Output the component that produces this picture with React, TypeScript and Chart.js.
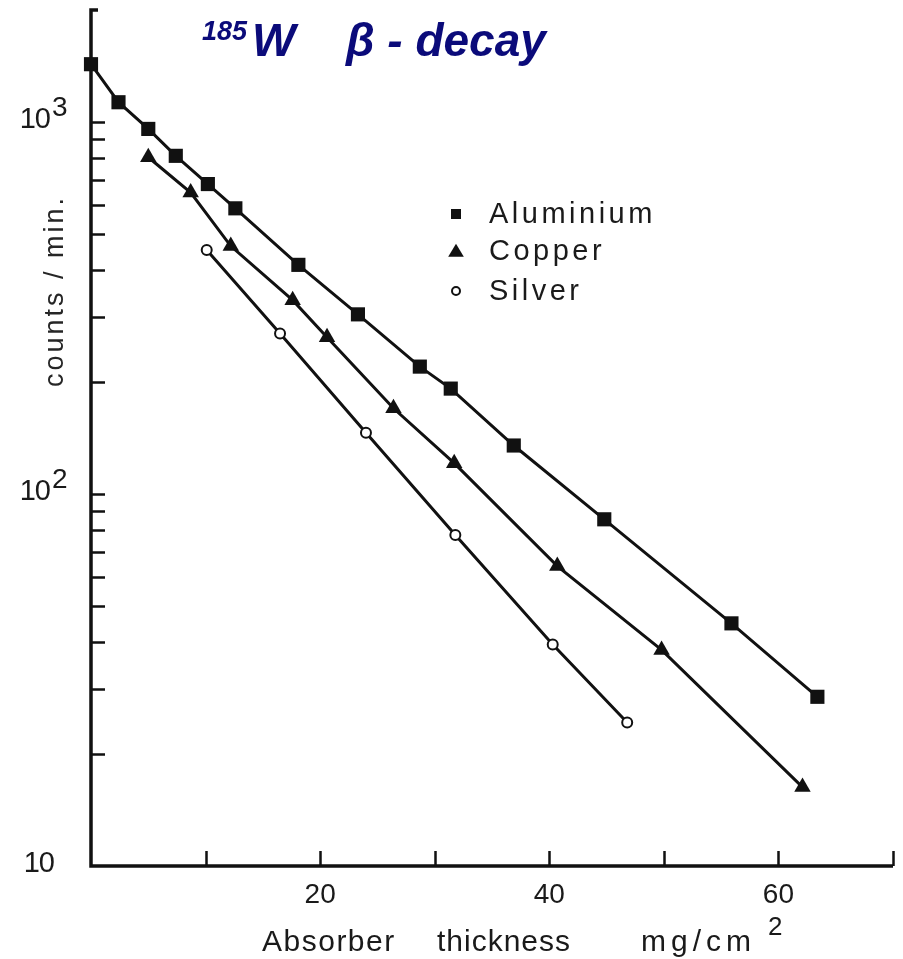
import React, { useEffect, useRef } from 'react';
import { Chart, registerables } from 'chart.js';

Chart.register(...registerables);

// ---- data ----
const aluminiumX = [0, 2.4, 5.0, 7.4, 10.2, 12.6, 18.1, 23.3, 28.7, 31.4, 36.9, 44.8, 55.9, 63.4];
const aluminiumY = [1430, 1130, 958, 811, 681, 586, 413, 304, 220, 192, 135, 85.5, 44.9, 28.5];

const copperX = [5.0, 8.7, 12.2, 17.6, 20.6, 26.4, 31.7, 40.7, 49.8, 62.1];
const copperY = [804, 646, 464, 332, 264, 170, 121, 64, 38.1, 16.3];

const silverX = [10.1, 16.5, 24.0, 31.8, 40.3, 46.8];
const silverY = [453, 270, 146, 77.6, 39.4, 24.3];

const seriesNames = ['Aluminium', 'Copper', 'Silver'];

const xTickValues = [10, 20, 30, 40, 50, 60, 70];
const xTickLabels = ['', '20', '', '40', '', '60', ''];

const yTickValues = [20, 30, 40, 50, 60, 70, 80, 90, 100, 200, 300, 400, 500, 600, 700, 800, 900, 1000];
const yLabelValues = [10, 100, 1000];
const yLabelBases = ['10', '10', '10'];
const yLabelExps = ['', '2', '3'];

const titleSup = '185';
const titleMain = 'W';
const titleRest = '\u03B2 - decay';
const yTitle = 'counts / min.';
const xTitleParts = ['Absorber', 'thickness', 'mg/cm'];
const xTitleExp = '2';

const X_MIN = 0;
const X_MAX = 70;
const Y_MIN = 10;
const Y_MAX = 2000;

const INK = '#111111';
const TEXT = '#1a1a1a';
const NAVY = '#0b0b7a';
const SANS = '"Liberation Sans", Arial, "DejaVu Sans", sans-serif';

function toPoints(xs: number[], ys: number[]) {
  return xs.map((x, i) => ({ x, y: ys[i] }));
}

function drawMarker(ctx: CanvasRenderingContext2D, style: string, x: number, y: number, s: number) {
  ctx.save();
  ctx.fillStyle = INK;
  ctx.strokeStyle = INK;
  ctx.beginPath();
  if (style === 'rect') {
    ctx.rect(x - s / 2, y - s / 2, s, s);
    ctx.fill();
  } else if (style === 'triangle') {
    ctx.moveTo(x, y - s * 0.55);
    ctx.lineTo(x + s * 0.6, y + s * 0.45);
    ctx.lineTo(x - s * 0.6, y + s * 0.45);
    ctx.closePath();
    ctx.fill();
  } else {
    ctx.lineWidth = 2;
    ctx.fillStyle = '#fff';
    ctx.arc(x, y, s / 2, 0, Math.PI * 2);
    ctx.fill();
    ctx.stroke();
  }
  ctx.restore();
}

const decorPlugin = {
  id: 'decor',
  beforeDatasetsDraw(chart: any) {
    const ctx: CanvasRenderingContext2D = chart.ctx;
    const xs = chart.scales.x;
    const ys = chart.scales.y;
    const { left, right, top, bottom } = chart.chartArea;
    ctx.save();
    ctx.strokeStyle = INK;
    ctx.lineCap = 'butt';

    // axes
    ctx.lineWidth = 3.5;
    ctx.beginPath();
    ctx.moveTo(left + 7, top);
    ctx.lineTo(left, top);
    ctx.lineTo(left, bottom);
    ctx.lineTo(right, bottom);
    ctx.stroke();

    // y ticks (inward)
    ctx.lineWidth = 2.5;
    ctx.beginPath();
    yTickValues.forEach((v) => {
      const py = Math.round(ys.getPixelForValue(v)) + 0.5;
      ctx.moveTo(left, py);
      ctx.lineTo(left + 14, py);
    });
    // x ticks (upward)
    xTickValues.forEach((v) => {
      const px = Math.round(xs.getPixelForValue(v)) + 0.5;
      ctx.moveTo(px, bottom);
      ctx.lineTo(px, bottom - 15);
    });
    ctx.stroke();

    // y tick labels
    ctx.fillStyle = TEXT;
    ctx.textBaseline = 'middle';
    yLabelValues.forEach((v, i) => {
      const py = ys.getPixelForValue(v);
      ctx.font = `29px ${SANS}`;
      (ctx as any).letterSpacing = '-1px';
      ctx.textAlign = 'right';
      const baseRight = yLabelExps[i] ? 50 : 54;
      ctx.fillText(yLabelBases[i], baseRight, py - 2);
      if (yLabelExps[i]) {
        ctx.textAlign = 'left';
        ctx.font = `28px ${SANS}`;
        ctx.fillText(yLabelExps[i], baseRight + 2, py - 14);
      }
    });
    (ctx as any).letterSpacing = '0px';

    // x tick labels
    ctx.font = `28px ${SANS}`;
    ctx.textAlign = 'center';
    ctx.textBaseline = 'middle';
    xTickValues.forEach((v, i) => {
      if (!xTickLabels[i]) return;
      ctx.fillText(xTickLabels[i], xs.getPixelForValue(v), 895);
    });

    // x title
    ctx.textAlign = 'left';
    ctx.textBaseline = 'alphabetic';
    (ctx as any).letterSpacing = '1.5px';
    ctx.font = `30px ${SANS}`;
    ctx.fillText(xTitleParts[0], 262, 951);
    (ctx as any).letterSpacing = '1px';
    ctx.fillText(xTitleParts[1], 437, 951);
    (ctx as any).letterSpacing = '5px';
    ctx.fillText(xTitleParts[2], 641, 951);
    (ctx as any).letterSpacing = '0px';
    ctx.font = `26px ${SANS}`;
    ctx.fillText(xTitleExp, 768, 935);

    // y title
    ctx.save();
    ctx.translate(63, 291);
    ctx.rotate(-Math.PI / 2);
    ctx.textAlign = 'center';
    ctx.textBaseline = 'alphabetic';
    ctx.fillStyle = '#262626';
    (ctx as any).letterSpacing = '3px';
    ctx.font = `27px ${SANS}`;
    ctx.fillText(yTitle, 0, 0);
    ctx.restore();
    (ctx as any).letterSpacing = '0px';

    // title
    ctx.fillStyle = NAVY;
    ctx.textAlign = 'left';
    ctx.textBaseline = 'alphabetic';
    ctx.font = `italic bold 27px ${SANS}`;
    ctx.fillText(titleSup, 202, 40);
    ctx.font = `italic bold 46px ${SANS}`;
    ctx.fillText(titleMain, 252, 56);
    ctx.fillText(titleRest, 346, 56);

    ctx.restore();
  },
  afterDraw(chart: any) {
    const ctx: CanvasRenderingContext2D = chart.ctx;
    const styles = ['rect', 'triangle', 'circle'];
    const sizes = [10, 13, 8];
    const rows = [214, 251, 291];
    ctx.save();
    seriesNames.forEach((name, i) => {
      drawMarker(ctx, styles[i], 456, rows[i], sizes[i]);
      ctx.fillStyle = TEXT;
      ctx.font = `29px ${SANS}`;
      (ctx as any).letterSpacing = '3.5px';
      ctx.textAlign = 'left';
      ctx.textBaseline = 'middle';
      ctx.fillText(name, 489, rows[i] + 1);
    });
    (ctx as any).letterSpacing = '0px';
    ctx.restore();
  },
};

export default function App() {
  const canvasRef = useRef<HTMLCanvasElement | null>(null);

  useEffect(() => {
    document.body.style.margin = '0';
    const canvas = canvasRef.current;
    if (!canvas) return;
    const common = {
      borderColor: INK,
      borderWidth: 3,
      pointBorderColor: INK,
      tension: 0,
      clip: false as any,
    };
    const chart = new Chart(canvas, {
      type: 'line',
      data: {
        datasets: [
          {
            ...common,
            label: seriesNames[0],
            data: toPoints(aluminiumX, aluminiumY),
            pointStyle: 'rect',
            pointRadius: 10,
            pointBackgroundColor: INK,
            pointBorderWidth: 0,
          },
          {
            ...common,
            label: seriesNames[1],
            data: toPoints(copperX, copperY),
            pointStyle: 'triangle',
            pointRadius: 9.5,
            pointBackgroundColor: INK,
            pointBorderWidth: 0,
          },
          {
            ...common,
            label: seriesNames[2],
            data: toPoints(silverX, silverY),
            pointStyle: 'circle',
            pointRadius: 5,
            pointBackgroundColor: '#ffffff',
            pointBorderWidth: 2,
          },
        ],
      },
      options: {
        animation: false,
        responsive: false,
        devicePixelRatio: 1,
        layout: { padding: { left: 91, right: 5, top: 10, bottom: 93 } },
        plugins: {
          legend: { display: false },
          tooltip: { enabled: false },
          title: { display: false },
        },
        scales: {
          x: { type: 'linear', min: X_MIN, max: X_MAX, display: false },
          y: { type: 'logarithmic', min: Y_MIN, max: Y_MAX, display: false },
        },
      },
      plugins: [decorPlugin],
    });
    return () => chart.destroy();
  }, []);

  return (
    <div style={{ width: 903, height: 959, background: '#fff' }}>
      <canvas ref={canvasRef} width={903} height={959} style={{ display: 'block' }} />
    </div>
  );
}
